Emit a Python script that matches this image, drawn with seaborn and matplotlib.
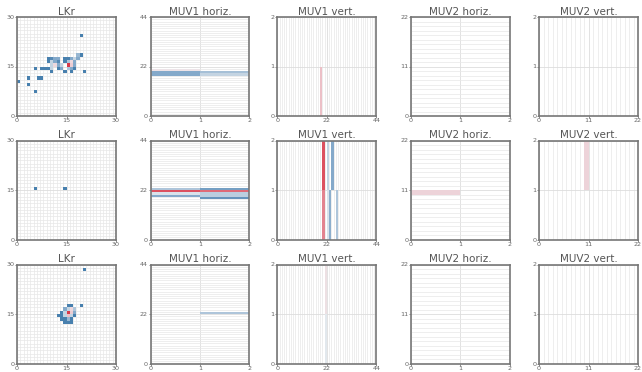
import numpy as np
import matplotlib
matplotlib.use("Agg")
import matplotlib.pyplot as plt
import seaborn as sns

# Paneles: titulo y tamaño de la rejilla (columnas, filas)
titulos = ["LKr", "MUV1 horiz.", "MUV1 vert.", "MUV2 horiz.", "MUV2 vert."]
tamanos = [(30, 30), (2, 44), (44, 2), (2, 22), (22, 2)]

# Celdas con señal: (columna, fila, valor 0=azul .. 1=rojo)
lkr_1 = [(19, 24, 0.05), (18, 18, 0.3), (19, 18, 0.05),
         (9, 17, 0.05), (10, 17, 0.1), (11, 17, 0.25), (12, 17, 0.25), (14, 17, 0.05),
         (15, 17, 0.05), (16, 17, 0.25), (17, 17, 0.4), (18, 17, 0.25),
         (9, 16, 0.05), (10, 16, 0.4), (11, 16, 0.25), (12, 16, 0.1), (14, 16, 0.05),
         (15, 16, 0.35), (16, 16, 0.6), (17, 16, 0.25),
         (10, 15, 0.4), (11, 15, 0.6), (12, 15, 0.25), (13, 15, 0.4), (15, 15, 1.0),
         (16, 15, 0.65), (17, 15, 0.25),
         (5, 14, 0.05), (7, 14, 0.05), (8, 14, 0.05), (9, 14, 0.05), (10, 14, 0.4),
         (12, 14, 0.05), (13, 14, 0.25), (15, 14, 0.35), (16, 14, 0.25), (17, 14, 0.05),
         (10, 13, 0.05), (14, 13, 0.05), (16, 13, 0.05), (20, 13, 0.05),
         (3, 11, 0.05), (6, 11, 0.05), (7, 11, 0.05),
         (0, 10, 0.05), (3, 9, 0.05), (5, 7, 0.05)]
muv1h_1 = [(0, 18, 0.25), (0, 19, 0.25), (0, 20, 0.55), (1, 18, 0.4), (1, 19, 0.33)]
muv1v_1 = [(19, 0, 0.7)]
muv2h_1 = []
muv2v_1 = []

lkr_2 = [(5, 15, 0.05), (14, 15, 0.05)]
muv1h_2 = [(0, 22, 0.35), (0, 21, 0.95), (0, 20, 0.45), (0, 19, 0.25),
           (1, 22, 0.2), (1, 21, 0.9), (1, 20, 0.38), (1, 19, 0.38), (1, 18, 0.15)]
muv1v_2 = [(20, 1, 0.95), (22, 1, 0.4), (24, 1, 0.25),
           (20, 0, 0.85), (22, 0, 0.45), (23, 0, 0.27), (26, 0, 0.35)]
muv2h_2 = [(0, 10, 0.62)]
muv2v_2 = [(10, 1, 0.62)]

lkr_3 = [(20, 28, 0.05), (19, 17, 0.05),
         (15, 17, 0.05), (16, 17, 0.05),
         (14, 16, 0.25), (15, 16, 0.4), (16, 16, 0.6), (17, 16, 0.35),
         (13, 15, 0.05), (14, 15, 0.4), (15, 15, 1.0), (16, 15, 0.65), (17, 15, 0.25),
         (12, 14, 0.05), (13, 14, 0.05), (14, 14, 0.4), (15, 14, 0.7), (16, 14, 0.4), (17, 14, 0.05),
         (13, 13, 0.05), (14, 13, 0.05), (15, 13, 0.3), (16, 13, 0.05),
         (14, 12, 0.05), (15, 12, 0.05), (16, 12, 0.05)]
muv1h_3 = [(1, 22, 0.35)]
muv1v_3 = [(21, 1, 0.57), (21, 0, 0.47)]
muv2h_3 = []
muv2v_3 = []

eventos = [[lkr_1, muv1h_1, muv1v_1, muv2h_1, muv2v_1],
           [lkr_2, muv1h_2, muv1v_2, muv2h_2, muv2v_2],
           [lkr_3, muv1h_3, muv1v_3, muv2h_3, muv2v_3]]

cmap = sns.blend_palette(["#3a76a8", "#84a9ca", "#eef0f2", "#ebb4bd", "#d83a4a"], as_cmap=True)

fig = plt.figure(figsize=(6.42, 3.72), dpi=100)
W, H = 642.0, 372.0
izq = [17, 150.5, 277.3, 410.7, 539]
arriba = [17, 140.5, 264.5]
lado = 99

for r, fila in enumerate(eventos):
    for c, celdas in enumerate(fila):
        nx, ny = tamanos[c]
        datos = np.zeros((ny, nx))
        for x, y, v in celdas:
            datos[y, x] = v
        mascara = np.ones_like(datos, dtype=bool)
        for x, y, v in celdas:
            mascara[y, x] = False

        ax = fig.add_axes([izq[c] / W, 1 - (arriba[r] + lado) / H, lado / W, lado / H])
        sns.heatmap(datos, mask=mascara, cmap=cmap, vmin=0, vmax=1, cbar=False,
                    xticklabels=False, yticklabels=False, ax=ax)
        ax.invert_yaxis()

        ax.set_xticks([0, nx / 2, nx])
        ax.set_xticklabels([0, nx // 2, nx])
        ax.set_yticks([0, ny / 2, ny])
        ax.set_yticklabels([0, ny // 2, ny], rotation=0)
        ax.set_xticks(np.arange(nx + 1), minor=True)
        ax.set_yticks(np.arange(ny + 1), minor=True)
        ax.tick_params(which="major", length=1.5, width=0.6, color="#777777",
                       labelsize=4.6, labelcolor="#666666", pad=0.3)
        ax.tick_params(which="minor", length=0)
        ax.set_axisbelow(True)
        ax.grid(which="minor", color="#e8e8e8", linewidth=0.5)
        ax.grid(which="major", color="#dddddd", linewidth=0.6)
        for s in ax.spines.values():
            s.set_visible(True)
            s.set_color("#777777")
            s.set_linewidth(1.2)
        ax.set_title(titulos[c], fontsize=7.5, color="#555555", pad=1.5)

fig.savefig("out.png", dpi=100)
